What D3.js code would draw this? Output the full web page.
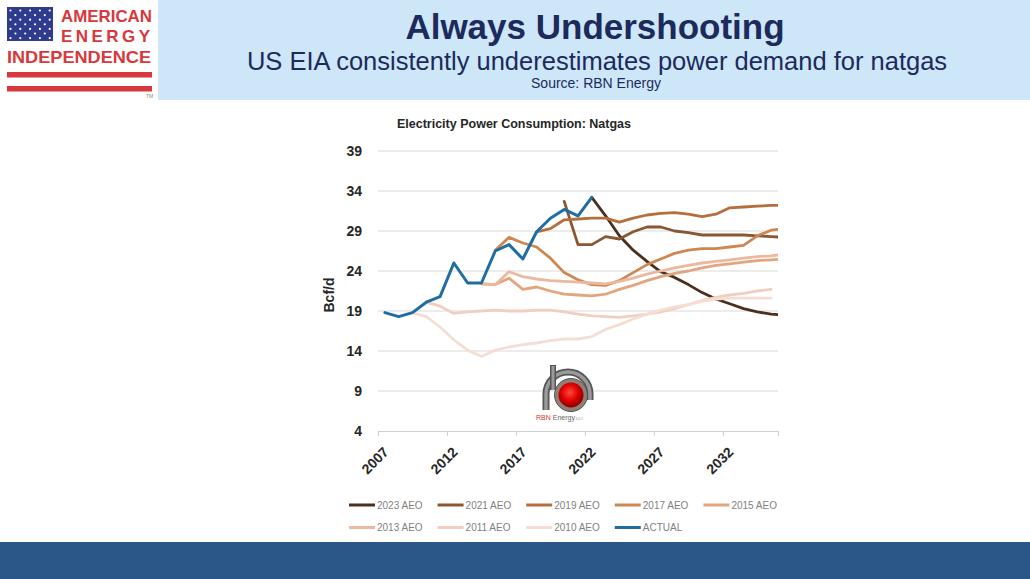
<!DOCTYPE html>
<html>
<head>
<meta charset="utf-8">
<script src="https://cdn.jsdelivr.net/npm/d3@7"></script>
<style>
  body { margin: 0; background: #fff; }
  svg { display: block; font-family: "Liberation Sans", Arial, sans-serif; }
</style>
</head>
<body>
<script>

// chart data (Bcf/d), one slot per year 2007..2036
var years = [2007, 2008, 2009, 2010, 2011, 2012, 2013, 2014, 2015, 2016,
             2017, 2018, 2019, 2020, 2021, 2022, 2023, 2024, 2025, 2026,
             2027, 2028, 2029, 2030, 2031, 2032, 2033, 2034, 2035, 2036];

var actual  = [18.8, 18.3, 18.8, 20.1, 20.8, 25.0, 22.5, 22.5, 26.5, 27.3,
               25.5, 28.9, 30.6, 31.7, 30.9, 33.2, null, null, null, null,
               null, null, null, null, null, null, null, null, null, null];
var aeo2023 = [null, null, null, null, null, null, null, null, null, null,
               null, null, null, null, null, 33.2, 30.9, 28.4, 26.6, 25.2,
               23.9, 23.2, 22.3, 21.3, 20.5, 19.9, 19.3, 18.9, 18.6, 18.5];
var aeo2021 = [null, null, null, null, null, null, null, null, null, null,
               null, null, null, 32.7, 27.3, 27.3, 28.3, 28.0, 28.9, 29.5,
               29.5, 29.0, 28.8, 28.5, 28.5, 28.5, 28.5, 28.4, 28.3, 28.2];
var aeo2019 = [null, null, null, null, null, null, null, null, null, null,
               null, 28.9, 29.3, 30.4, 30.5, 30.6, 30.6, 30.1, 30.6, 31.0,
               31.2, 31.3, 31.1, 30.8, 31.1, 31.9, 32.0, 32.1, 32.2, 32.2];
var aeo2017 = [null, null, null, null, null, null, null, null, 26.6, 28.2,
               27.5, 27.0, 25.6, 23.8, 22.9, 22.3, 22.2, 22.8, 23.8, 24.8,
               25.5, 26.2, 26.6, 26.8, 26.8, 27.0, 27.2, 28.4, 29.1, 29.3];
var aeo2015 = [null, null, null, null, null, null, null, 22.4, 22.3, 23.1,
               21.7, 22.0, 21.5, 21.1, 21.0, 20.9, 21.1, 21.7, 22.2, 22.8,
               23.3, 23.7, 24.0, 24.4, 24.7, 24.9, 25.1, 25.3, 25.4, 25.5];
var aeo2013 = [null, null, null, null, null, null, null, 22.4, 22.3, 23.9,
               23.3, 23.0, 22.8, 22.7, 22.6, 22.5, 22.4, 22.7, 23.1, 23.6,
               24.0, 24.4, 24.7, 25.0, 25.2, 25.4, 25.6, 25.8, 25.9, 26.1];
var aeo2011 = [null, null, null, 20.1, 19.6, 18.7, 18.9, 19.0, 19.1, 19.0,
               19.0, 19.1, 19.1, 18.9, 18.6, 18.4, 18.3, 18.2, 18.4, 18.6,
               18.9, 19.3, 19.8, 20.3, 20.7, 21.0, 21.2, 21.5, 21.7, null];
var aeo2010 = [null, null, 18.8, 18.3, 17.0, 15.4, 14.1, 13.3, 14.1, 14.5,
               14.8, 15.0, 15.3, 15.5, 15.5, 15.8, 16.7, 17.3, 18.0, 18.6,
               19.1, 19.5, 19.8, 20.2, 20.5, 20.6, 20.6, 20.6, 20.6, null];

var seriesNames  = ['2023 AEO', '2021 AEO', '2019 AEO', '2017 AEO', '2015 AEO',
                    '2013 AEO', '2011 AEO', '2010 AEO', 'ACTUAL'];
var seriesValues = [aeo2023, aeo2021, aeo2019, aeo2017, aeo2015,
                    aeo2013, aeo2011, aeo2010, actual];
var seriesColors = ['#4c2f1c', '#8a5733', '#b56f3d', '#cf8752', '#e3a57e',
                    '#ebb8a0', '#f1cfc0', '#f4ded3', '#1f6ea3'];

var yTicks = [4, 9, 14, 19, 24, 29, 34, 39];
var xTicks = [2007, 2012, 2017, 2022, 2027, 2032];


var svg = d3.select('body').append('svg')
	.attr('width', 1030)
	.attr('height', 579);

// header
// -------

svg.append('rect')
	.attr('x', 158).attr('y', 0)
	.attr('width', 872).attr('height', 100)
	.attr('fill', '#cde7f8');

svg.append('text')
	.attr('x', 595).attr('y', 39)
	.attr('text-anchor', 'middle')
	.attr('font-size', 35).attr('font-weight', 'bold')
	.attr('fill', '#1c2a5c')
	.text('Always Undershooting');

svg.append('text')
	.attr('x', 597).attr('y', 70)
	.attr('text-anchor', 'middle')
	.attr('font-size', 25.5)
	.attr('fill', '#1c2a5c')
	.text('US EIA consistently underestimates power demand for natgas');

svg.append('text')
	.attr('x', 596).attr('y', 88)
	.attr('text-anchor', 'middle')
	.attr('font-size', 14)
	.attr('fill', '#1c2a5c')
	.text('Source: RBN Energy');

// logo, top left
var logo = svg.append('g');
var red = '#d8383b';

logo.append('rect')
	.attr('x', 7).attr('y', 7)
	.attr('width', 46).attr('height', 34)
	.attr('fill', '#2f3b8f');

var starRows = d3.range(7), starCols = d3.range(9);
starRows.forEach(function(r) {
	starCols.forEach(function(c) {
		if ((r + c) % 2 == 1) return;
		logo.append('circle')
			.attr('cx', 10.5 + c * 4.9)
			.attr('cy', 10.5 + r * 4.6)
			.attr('r', 1.1)
			.attr('fill', '#fff');
	});
});

logo.append('text')
	.attr('x', 61).attr('y', 22)
	.attr('font-size', 17).attr('font-weight', 'bold')
	.attr('fill', red)
	.attr('textLength', 91).attr('lengthAdjust', 'spacingAndGlyphs')
	.text('AMERICAN');

logo.append('text')
	.attr('x', 61).attr('y', 42)
	.attr('font-size', 17).attr('font-weight', 'bold')
	.attr('fill', red)
	.attr('textLength', 89).attr('lengthAdjust', 'spacing')
	.text('ENERGY');

logo.append('text')
	.attr('x', 7).attr('y', 63)
	.attr('font-size', 17).attr('font-weight', 'bold')
	.attr('fill', red)
	.attr('textLength', 144).attr('lengthAdjust', 'spacingAndGlyphs')
	.text('INDEPENDENCE');

[72, 86].forEach(function(y) {
	logo.append('rect')
		.attr('x', 7).attr('y', y)
		.attr('width', 145).attr('height', 5.5)
		.attr('fill', red);
});

logo.append('text')
	.attr('x', 146).attr('y', 98)
	.attr('font-size', 5)
	.attr('fill', '#888')
	.text('TM');

// footer bar
svg.append('rect')
	.attr('x', 0).attr('y', 542)
	.attr('width', 1030).attr('height', 37)
	.attr('fill', '#2b5688');


// chart
// -----

var x = d3.scaleLinear().domain([2007, 2036]).range([378, 778]);
var y = d3.scaleLinear().domain([4, 39]).range([431, 151]);

// points sit in the middle of each year's slot
var px = function(i) { return x(years[i] + 0.5); };

svg.append('text')
	.attr('x', 514).attr('y', 128)
	.attr('text-anchor', 'middle')
	.attr('font-size', 12.5).attr('font-weight', 'bold')
	.attr('fill', '#262626')
	.text('Electricity Power Consumption: Natgas');

// gridlines
svg.append('g')
	.selectAll('line')
	.data(yTicks.slice(1))
	.join('line')
	.attr('x1', x(2007)).attr('x2', x(2036))
	.attr('y1', function(d) { return y(d); })
	.attr('y2', function(d) { return y(d); })
	.attr('stroke', '#d9d9d9')
	.attr('stroke-width', 1.2);

var yAxis = svg.append('g')
	.attr('transform', 'translate(' + x(2007) + ',0)')
	.call(d3.axisLeft(y).tickValues(yTicks).tickSize(0).tickPadding(16));
yAxis.select('.domain').remove();
yAxis.selectAll('text')
	.attr('font-family', '"Liberation Sans", Arial, sans-serif')
	.attr('font-size', 14).attr('font-weight', 'bold')
	.attr('fill', '#262626');

var xAxis = svg.append('g')
	.attr('transform', 'translate(0,' + y(4) + ')')
	.call(d3.axisBottom(x).tickValues(xTicks).tickSize(5).tickFormat(d3.format('d')));
xAxis.select('.domain').attr('stroke', '#d0d0d0').attr('stroke-width', 1.2);
xAxis.selectAll('.tick line').attr('stroke', '#d0d0d0');
xAxis.selectAll('text')
	.attr('font-family', '"Liberation Sans", Arial, sans-serif')
	.attr('font-size', 14).attr('font-weight', 'bold')
	.attr('fill', '#262626')
	.attr('text-anchor', 'end')
	.attr('x', 0).attr('y', 0).attr('dy', 0)
	.attr('transform', 'translate(11,22) rotate(-45)');

svg.append('text')
	.attr('transform', 'translate(334,295) rotate(-90)')
	.attr('text-anchor', 'middle')
	.attr('font-size', 14).attr('font-weight', 'bold')
	.attr('fill', '#262626')
	.text('Bcf/d');

// RBN watermark
var rbn = svg.append('g');
var grad = svg.append('defs').append('radialGradient')
	.attr('id', 'ball').attr('cx', '45%').attr('cy', '40%').attr('r', '60%');
grad.append('stop').attr('offset', '0%').attr('stop-color', '#ff4a3a');
grad.append('stop').attr('offset', '55%').attr('stop-color', '#e00000');
grad.append('stop').attr('offset', '100%').attr('stop-color', '#8a0000');

rbn.append('path')
	.attr('d', 'M546,410 V394 A22,22 0 0 1 590,394 V400')
	.attr('fill', 'none').attr('stroke', '#555').attr('stroke-width', 7);
rbn.append('path')
	.attr('d', 'M546,410 V394 A22,22 0 0 1 590,394 V400')
	.attr('fill', 'none').attr('stroke', '#9a9a9a').attr('stroke-width', 3.5);
rbn.append('line')
	.attr('x1', 553).attr('x2', 553).attr('y1', 365).attr('y2', 390)
	.attr('stroke', '#555').attr('stroke-width', 6);
rbn.append('line')
	.attr('x1', 553).attr('x2', 553).attr('y1', 366).attr('y2', 390)
	.attr('stroke', '#9a9a9a').attr('stroke-width', 3);
rbn.append('circle')
	.attr('cx', 571).attr('cy', 395).attr('r', 16.5)
	.attr('fill', '#8c8078').attr('stroke', '#555').attr('stroke-width', 1);
rbn.append('circle')
	.attr('cx', 571).attr('cy', 395).attr('r', 12.5)
	.attr('fill', 'url(#ball)');
var rbnText = rbn.append('text')
	.attr('x', 536).attr('y', 420)
	.attr('font-size', 7);
rbnText.append('tspan').attr('fill', '#d33').text('RBN ');
rbnText.append('tspan').attr('fill', '#666').text('Energy');
rbnText.append('tspan').attr('fill', '#888').attr('font-size', 4).text(' LLC');

// lines
svg.append('clipPath').attr('id', 'plot')
	.append('rect')
	.attr('x', x(2007)).attr('y', y(39) - 10)
	.attr('width', x(2036) - x(2007)).attr('height', y(4) - y(39) + 10);

var line = d3.line()
	.defined(function(d) { return d != null; })
	.x(function(d, i) { return px(i); })
	.y(function(d) { return y(d); });

svg.append('g')
	.attr('clip-path', 'url(#plot)')
	.selectAll('path')
	.data(seriesValues)
	.join('path')
	.attr('d', line)
	.attr('fill', 'none')
	.attr('stroke', function(d, i) { return seriesColors[i]; })
	.attr('stroke-width', function(d, i) { return i == 8 ? 3 : 2.8; })
	.attr('stroke-linejoin', 'round')
	.attr('stroke-linecap', 'round');

// legend
// ------

var legend = svg.append('g')
	.selectAll('g')
	.data(seriesNames)
	.join('g')
	.attr('transform', function(d, i) {
		return 'translate(' + (349 + (i % 5) * 88.6) + ',' + (505 + Math.floor(i / 5) * 22.5) + ')';
	});

legend.append('line')
	.attr('x1', 0).attr('x2', 26)
	.attr('stroke', function(d, i) { return seriesColors[i]; })
	.attr('stroke-width', 3);

legend.append('text')
	.attr('x', 28).attr('y', 3.5)
	.attr('font-size', 10)
	.attr('fill', '#7f7f7f')
	.text(function(d) { return d; });

</script>
</body>
</html>
